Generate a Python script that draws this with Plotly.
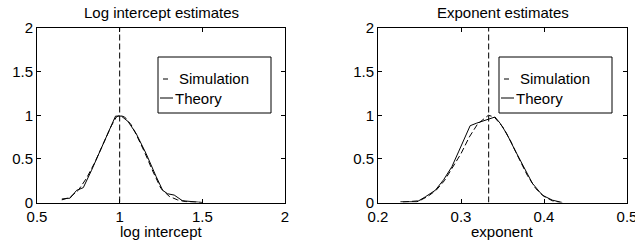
import plotly.graph_objects as go

# ---- data ----
li_theory_x = [0.65, 0.70, 0.74, 0.78, 0.83, 0.88, 0.94, 0.975, 1.01, 1.05, 1.10, 1.16, 1.22, 1.26, 1.29, 1.33, 1.38, 1.44, 1.50]
li_theory_y = [0.04, 0.05, 0.14, 0.17, 0.37, 0.58, 0.83, 0.99, 0.99, 0.93, 0.79, 0.56, 0.30, 0.14, 0.10, 0.085, 0.02, 0.008, 0.0]
li_sim_x = [0.65, 0.70, 0.75, 0.80, 0.85, 0.90, 0.95, 0.98, 1.00, 1.03, 1.07, 1.10, 1.15, 1.20, 1.25, 1.30, 1.35, 1.40, 1.50]
li_sim_y = [0.03, 0.06, 0.14, 0.28, 0.46, 0.67, 0.88, 0.98, 1.00, 0.98, 0.89, 0.78, 0.58, 0.36, 0.16, 0.07, 0.03, 0.01, 0.0]
li_true = 1.0

ex_theory_x = [0.227, 0.247, 0.257, 0.269, 0.279, 0.289, 0.297, 0.305, 0.311, 0.319, 0.329, 0.341, 0.347, 0.355, 0.365, 0.375, 0.386, 0.398, 0.410, 0.422]
ex_theory_y = [0.008, 0.008, 0.065, 0.14, 0.26, 0.41, 0.58, 0.75, 0.88, 0.91, 0.94, 0.98, 0.91, 0.79, 0.60, 0.41, 0.22, 0.084, 0.027, 0.0]
ex_sim_x = [0.23, 0.25, 0.26, 0.27, 0.28, 0.29, 0.30, 0.31, 0.32, 0.333, 0.34, 0.35, 0.36, 0.37, 0.38, 0.39, 0.40, 0.41, 0.42]
ex_sim_y = [0.005, 0.02, 0.07, 0.14, 0.25, 0.40, 0.56, 0.75, 0.90, 1.0, 0.98, 0.87, 0.70, 0.50, 0.31, 0.16, 0.07, 0.02, 0.0]
ex_true = 1.0 / 3.0

li_xticks = [0.5, 1, 1.5, 2]
ex_xticks = [0.2, 0.3, 0.4, 0.5]
yticks = [0, 0.5, 1, 1.5, 2]
titles = ["Log intercept estimates", "Exponent estimates"]
xlabels = ["log intercept", "exponent"]
legend_labels = ["Simulation", "Theory"]

FONT = "Liberation Sans, Arial, Helvetica, sans-serif"
FS = 15
DASH = "6px,3px"

W, H = 635, 241


def X(px):
    return px / W


def Y(py):
    return 1 - py / H


fig = go.Figure()

panels = [
    ("x", "y", li_sim_x, li_sim_y, li_theory_x, li_theory_y, li_true),
    ("x2", "y2", ex_sim_x, ex_sim_y, ex_theory_x, ex_theory_y, ex_true),
]
for xa, ya, sx, sy, tx, ty, tv in panels:
    fig.add_trace(go.Scatter(x=sx, y=sy, xaxis=xa, yaxis=ya, mode="lines",
                             line=dict(color="black", width=1, dash=DASH), showlegend=False))
    fig.add_trace(go.Scatter(x=tx, y=ty, xaxis=xa, yaxis=ya, mode="lines",
                             line=dict(color="black", width=1), showlegend=False))
    fig.add_trace(go.Scatter(x=[tv, tv], y=[yticks[0], yticks[-1]], xaxis=xa, yaxis=ya, mode="lines",
                             line=dict(color="black", width=1, dash=DASH), showlegend=False))

ydom = [Y(202.5), Y(28)]
xpx = [(37, 285), (378, 627)]
xdoms = [[X(a), X(b)] for a, b in xpx]

axis_common = dict(showline=True, linecolor="black", linewidth=1, mirror="ticks",
                   ticks="inside", ticklen=4, tickcolor="black", showgrid=False, zeroline=False,
                   tickfont=dict(family=FONT, size=FS, color="black"), automargin=False,
                   ticklabeloverflow="allow")

fig.update_layout(
    width=W, height=H, margin=dict(l=0, r=0, t=0, b=0),
    paper_bgcolor="white", plot_bgcolor="white", showlegend=False,
    xaxis=dict(domain=xdoms[0], range=[0.5, 2], tickvals=li_xticks, anchor="y", **axis_common),
    yaxis=dict(domain=ydom, range=[0, 2], tickvals=yticks, anchor="x", **axis_common),
    xaxis2=dict(domain=xdoms[1], range=[0.2, 0.5], tickvals=ex_xticks, anchor="y2", **axis_common),
    yaxis2=dict(domain=ydom, range=[0, 2], tickvals=yticks, anchor="x2", **axis_common),
)

txt = dict(family=FONT, size=FS, color="black")
for i in range(2):
    a, b = xpx[i]
    xc = X((a + b) / 2)
    fig.add_annotation(text=titles[i], xref="paper", yref="paper", x=xc, y=Y(12.5),
                       xanchor="center", yanchor="middle", showarrow=False, font=txt)
    fig.add_annotation(text=xlabels[i], xref="paper", yref="paper", x=xc, y=Y(231),
                       xanchor="center", yanchor="middle", showarrow=False, font=txt)

    # legend box
    bl = a + 121
    fig.add_shape(type="rect", xref="paper", yref="paper", x0=X(bl), x1=X(bl + 113),
                  y0=Y(113), y1=Y(57), line=dict(color="black", width=1), fillcolor="white")
    fig.add_shape(type="line", xref="paper", yref="paper", x0=X(bl + 5), x1=X(bl + 10),
                  y0=Y(79), y1=Y(79), line=dict(color="black", width=1))
    fig.add_annotation(text=legend_labels[0], xref="paper", yref="paper", x=X(bl + 19), y=Y(79),
                       xanchor="left", yanchor="middle", showarrow=False, font=txt)
    fig.add_shape(type="line", xref="paper", yref="paper", x0=X(bl + 2), x1=X(bl + 15),
                  y0=Y(98), y1=Y(98), line=dict(color="black", width=1))
    fig.add_annotation(text=legend_labels[1], xref="paper", yref="paper", x=X(bl + 15), y=Y(98),
                       xanchor="left", yanchor="middle", showarrow=False, font=txt)

fig.write_html("out.html", config={"displayModeBar": False, "staticPlot": True},
               post_script="document.body.style.margin='0';document.body.style.overflow='hidden';")
